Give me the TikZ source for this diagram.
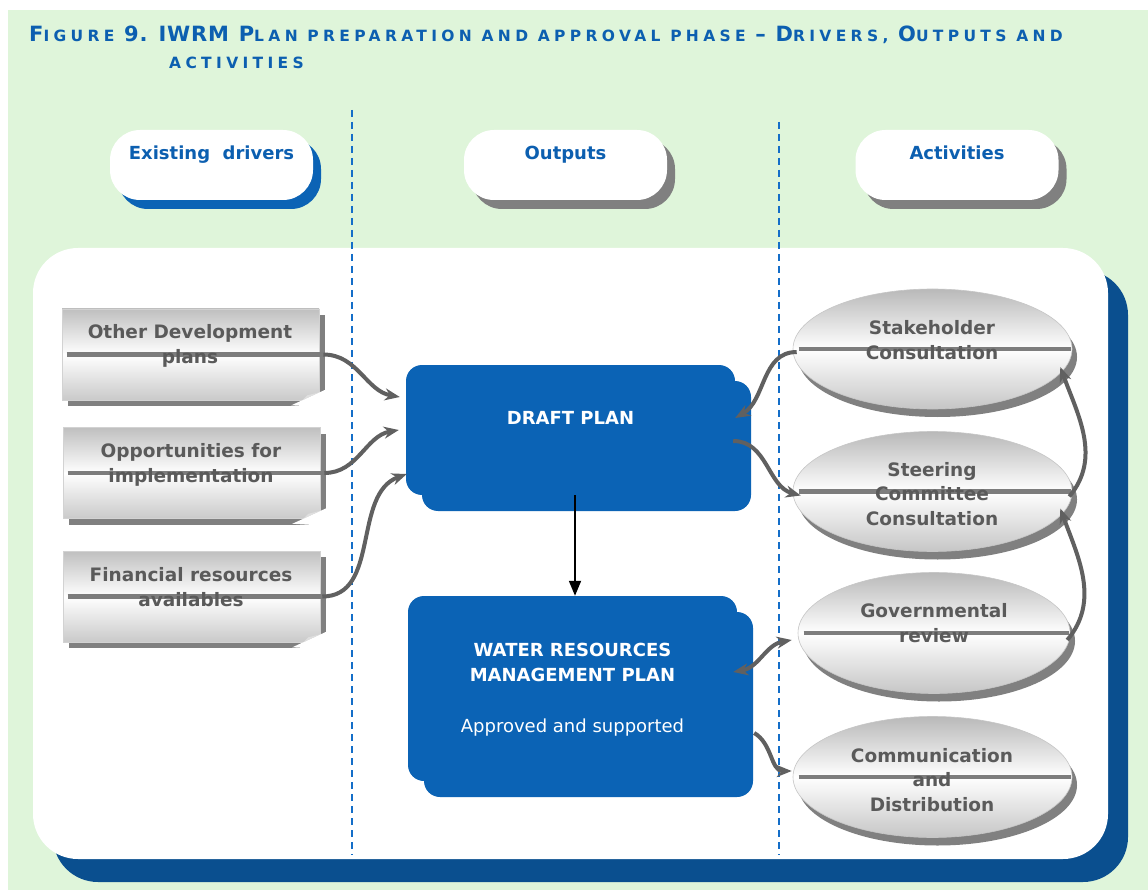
\documentclass[tikz,border=0pt]{standalone}
\usepackage{fontspec}
\setmainfont{DejaVu Sans}
\newfontfamily\titlefont{DejaVu Sans}[LetterSpace=28]
\usetikzlibrary{shapes.geometric,shadows,arrows.meta}

\definecolor{bggreen}{RGB}{223,245,218}
\definecolor{titleblue}{RGB}{12,95,176}
\definecolor{planblue}{RGB}{11,99,181}
\definecolor{panelshadow}{RGB}{10,79,143}
\definecolor{divblue}{RGB}{20,110,200}
\definecolor{shadowgrey}{RGB}{128,128,128}
\definecolor{textgrey}{RGB}{90,90,90}
\definecolor{linkgrey}{RGB}{96,96,96}
\definecolor{bargrey}{RGB}{125,125,125}

\newcommand{\titlecap}[1]{{\fontsize{21}{24}\selectfont\addfontfeature{LetterSpace=4}#1}}

\tikzset{
  header/.style={rectangle, rounded corners=30pt, fill=white, minimum width=203, minimum height=70,
    inner sep=0, text height=30, text depth=40, text=titleblue, font=\bfseries\fontsize{18}{22}\selectfont},
  bluehead/.style={header, general shadow={fill=planblue, shadow xshift=8pt, shadow yshift=-9pt}},
  greyhead/.style={header, general shadow={fill=shadowgrey, shadow xshift=8pt, shadow yshift=-9pt}},
  driverbox/.style={rectangle, minimum width=257, minimum height=91, inner sep=0, draw=gray!35, line width=0.6pt,
    top color=gray!50, bottom color=gray!42, middle color=white,
    general shadow={fill=shadowgrey, shadow xshift=6pt, shadow yshift=-6pt}},
  actbox/.style={ellipse, minimum width=279, minimum height=120, inner sep=0, draw=gray!45, line width=0.6pt,
    top color=gray!55, bottom color=gray!45, middle color=white,
    general shadow={fill=shadowgrey, shadow xshift=5pt, shadow yshift=-8pt}},
  greytext/.style={align=center, text=textgrey, font=\bfseries\fontsize{18.5}{24.5}\selectfont},
  planbox/.style={rectangle, rounded corners=16pt, fill=planblue, inner sep=0, minimum width=329, text=white,
    font=\bfseries\fontsize{18}{25}\selectfont,
    general shadow={fill=planblue, shadow xshift=16pt, shadow yshift=-16pt}},
  bar/.style={draw=bargrey, line width=4.5pt},
  divider/.style={draw=divblue, line width=1.5pt, dash pattern=on 7pt off 5pt},
  link/.style={draw=linkgrey, line width=4pt, -{Stealth[length=15pt,width=12pt]}},
  twolink/.style={link, {Stealth[length=15pt,width=12pt]}-{Stealth[length=15pt,width=12pt]}},
}

\begin{document}
\begin{tikzpicture}[x=1pt,y=1pt]
\useasboundingbox (0,0) rectangle (1148,-890);
\fill[bggreen] (8,-10) rectangle (1148,-890);

\node[anchor=base west, inner sep=0, text=titleblue, font=\titlefont\bfseries\fontsize{15.5}{24}\selectfont] (title) at (29,-42)
  {\titlecap{F}IGURE \titlecap{9. IWRM} \titlecap{P}LAN PREPARATION AND APPROVAL PHASE \titlecap{–} \titlecap{D}RIVERS, \titlecap{O}UTPUTS AND};
\node[anchor=base west, inner sep=0, text=titleblue, font=\titlefont\bfseries\fontsize{15.5}{24}\selectfont] (title2) at (169,-69) {ACTIVITIES};

\fill[panelshadow, rounded corners=45pt] (53,-270) rectangle (1128,-882);
\fill[white, rounded corners=45pt] (33,-248) rectangle (1108,-859);

\draw[divider] (352,-110) -- (352,-855);
\draw[divider] (779,-122) -- (779,-855);

\node[bluehead] (exist) at (211.5,-165) {Existing\ \ drivers};
\node[greyhead] (outp) at (565.5,-165) {Outputs};
\node[greyhead] (activ) at (957,-165) {Activities};

\node[driverbox] (odp) at (190.5,-354.5) {};
\node[driverbox] (opp) at (191.5,-473) {};
\node[driverbox] (fin) at (191.5,-596.5) {};
\foreach \b in {odp,opp,fin} {
  \fill[white] ([xshift=-28,yshift=-5]\b.south east) -- ([xshift=7,yshift=-7]\b.south east) -- ([xshift=7,yshift=11]\b.south east) -- cycle;
  \fill[gray!25] ([xshift=-17]\b.south east) -- ([yshift=8]\b.south east) -- ([xshift=-12,yshift=5]\b.south east) -- cycle;
  \draw[bar] ([xshift=5]\b.west) -- ([xshift=4]\b.east);
}
\node[greytext] (odptext) at (190,-346) {Other Development\\plans};
\node[greytext] (opptext) at (191,-465) {Opportunities for\\implementation};
\node[greytext] (fintext) at (191,-587) {Financial resources\\availables};

\node[actbox] (stk) at (932.5,-349) {};
\node[actbox] (stc) at (932.5,-491.5) {};
\node[actbox, minimum width=272, minimum height=121] (gov) at (934,-633) {};
\node[actbox, minimum height=121] (com) at (932.5,-777) {};
\foreach \e in {stk,stc,gov,com} {
  \draw[bar] ([xshift=6]\e.west) -- ([xshift=-1]\e.east);
}
\node[greytext] (stktext) at (932,-340) {Stakeholder\\Consultation};
\node[greytext] (stctext) at (932,-494) {Steering\\Committee\\Consultation};
\node[greytext] (govtext) at (934,-623) {Governmental\\review};
\node[greytext] (comtext) at (932,-780) {Communication\\and\\Distribution};

\node[planbox, text height=59, text depth=71] (draft) at (570.5,-430) {DRAFT PLAN};
\node[planbox, text height=136, text depth=49] (wrmp) at (572.5,-688.5)
  {\begin{tabular}[b]{c}WATER RESOURCES\\MANAGEMENT PLAN\\[26pt]\mdseries Approved and supported\end{tabular}};

\draw[line width=1.8pt, -{Triangle[length=15pt,width=12pt]}] ([xshift=4.5]draft.south) -- ([xshift=2.5]wrmp.north);

\draw[link] ([xshift=4]odp.east) to[out=0,in=170] ([xshift=-6,yshift=33]draft.west);
\draw[link] ([xshift=4]opp.east) to[out=0,in=190] ([xshift=-7]draft.west);
\draw[link] ([xshift=2]fin.east) to[out=0,in=200] ([xshift=1,yshift=-44]draft.west);
\draw[link] ([xshift=4,yshift=-3]stk.west) to[out=180,in=30] ([yshift=12]draft.east);
\draw[link] ([xshift=-2,yshift=-11]draft.east) to[out=0,in=165] ([xshift=8,yshift=-4]stc.west);
\draw[twolink] ([xshift=-4,yshift=16.5]wrmp.east) to[out=10,in=190] ([xshift=-6,yshift=-7]gov.west);
\draw[link] ([xshift=17,yshift=-44.5]wrmp.east) to[out=-30,in=180] ([xshift=-1,yshift=6]com.west);
\draw[link] ([xshift=-3,yshift=-5]stc.east) to[out=50,in=-70] ([xshift=-12,yshift=-18]stk.east);
\draw[link] ([xshift=-3,yshift=-7]gov.east) to[out=50,in=-70] ([xshift=-12,yshift=-17]stc.east);
\end{tikzpicture}
\end{document}
